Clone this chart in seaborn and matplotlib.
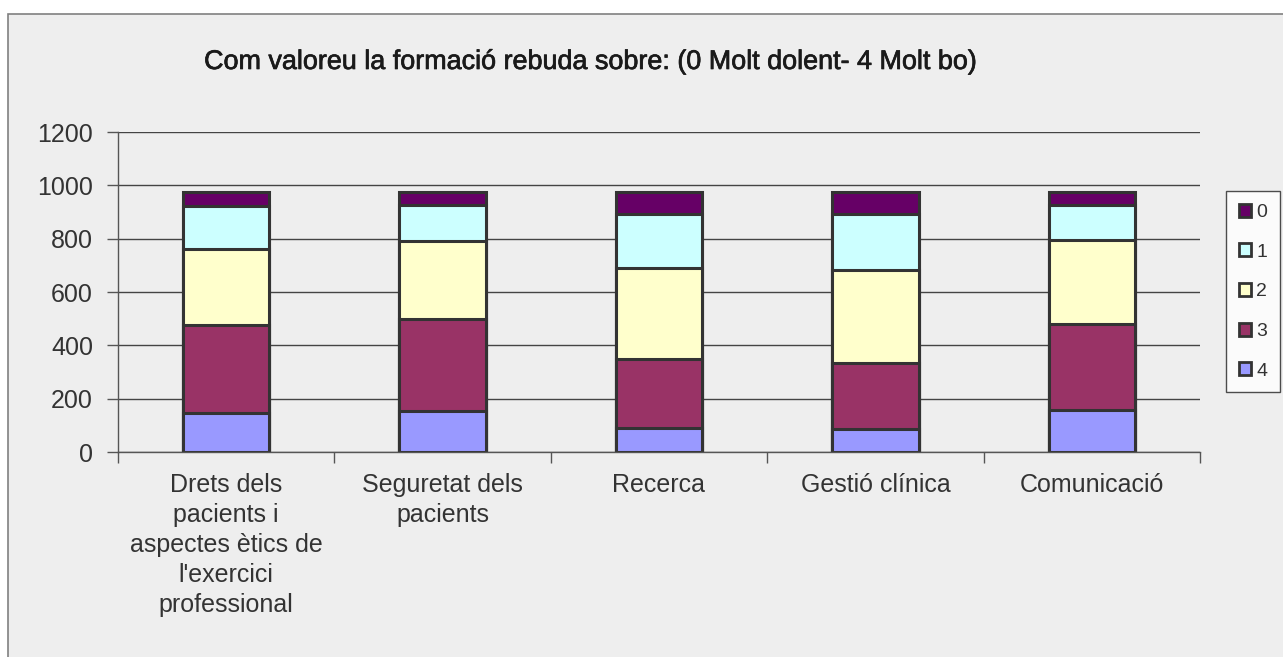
import matplotlib
matplotlib.use("Agg")
from matplotlib import pyplot as plt
from matplotlib import patheffects
from matplotlib.patches import Patch, Rectangle
from matplotlib.ticker import FixedLocator
import numpy as np
import seaborn as sns

# Data
categories = [
    "Drets dels\npacients i\naspectes ètics de\nl'exercici\nprofessional",
    "Seguretat dels\npacients",
    "Recerca",
    "Gestió clínica",
    "Comunicació",
]
score_levels = ["0", "1", "2", "3", "4"]
score_0 = [55, 51, 82, 82, 49]
score_1 = [158, 133, 204, 213, 132]
score_2 = [287, 293, 342, 349, 315]
score_3 = [329, 347, 258, 246, 324]
score_4 = [147, 152, 90, 86, 156]
level_colors = ["#660066", "#CCFFFF", "#FFFFCC", "#993366", "#9999FF"]

title = "Com valoreu la formació rebuda sobre: (0 Molt dolent- 4 Molt bo)"

sns.set_theme(style="white")
plt.rcParams["font.family"] = ["Liberation Sans", "DejaVu Sans"]
text_color = "#333333"
bg = "#EEEEEE"

fig = plt.figure(figsize=(12.83, 6.57), dpi=100, facecolor="white")
# chart area frame
fig.patches.append(Rectangle((8 / 1283, -0.05), 1.2, 1 - 14 / 657 + 0.05,
                             transform=fig.transFigure, facecolor=bg,
                             edgecolor="#808080", linewidth=1.2, zorder=-10))

ax = fig.add_axes([118 / 1283, 1 - 452 / 657, (1200 - 118) / 1283, (452 - 132) / 657])
ax.set_facecolor("none")

# stacked bars: draw cumulative totals from the top layer down
layers = [score_0, score_1, score_2, score_3, score_4]
for i, color in enumerate(level_colors):
    heights = np.sum(np.array(layers[i:]), axis=0)
    sns.barplot(x=categories, y=heights, color=color, saturation=1, width=0.4,
                edgecolor="#333333", linewidth=2.2, errorbar=None, ax=ax)

ax.set_ylim(0, 1200)
ax.set_xlim(-0.5, 4.5)
ax.set_yticks(range(0, 1201, 200))
ax.yaxis.grid(True, color="#444444", linewidth=1.0)
ax.set_axisbelow(True)
for side in ["top", "right"]:
    ax.spines[side].set_visible(False)
for side in ["left", "bottom"]:
    ax.spines[side].set_color("#555555")
    ax.spines[side].set_linewidth(1.0)

ax.tick_params(axis="y", length=8, width=1.0, color="#555555", direction="out",
               labelsize=18, labelcolor=text_color, pad=10, left=True)
ax.tick_params(axis="x", which="major", length=0, labelsize=18,
               labelcolor=text_color, pad=15)
ax.xaxis.set_minor_locator(FixedLocator(np.arange(-0.5, 4.6, 1)))
ax.tick_params(axis="x", which="minor", length=8, width=1.0, color="#555555",
               direction="out", bottom=True)
for lab in ax.get_xticklabels():
    lab.set_linespacing(1.32)
ax.set_xlabel("")
ax.set_ylabel("")

fig.text(590 / 1283, 1 - 62 / 657, title, ha="center", va="center",
         fontsize=19.4, color="#1a1a1a",
         path_effects=[patheffects.withStroke(linewidth=0.5, foreground="#1a1a1a")])

handles = [Patch(facecolor=c, edgecolor="#333333", linewidth=2.0, label=l)
           for c, l in zip(level_colors, score_levels)]
leg = fig.legend(handles=handles, loc="upper left",
                 bbox_to_anchor=(1226 / 1283, 1 - 191 / 657),
                 fontsize=14, frameon=True, fancybox=False,
                 edgecolor="#222222", handlelength=0.65, handleheight=0.65,
                 handletextpad=0.25, labelspacing=1.15, borderpad=0.65,
                 borderaxespad=0)
leg.get_frame().set_linewidth(1.0)
leg.get_frame().set_facecolor("white")
for t in leg.get_texts():
    t.set_color(text_color)

fig.savefig("out.png", dpi=100, facecolor="white")
